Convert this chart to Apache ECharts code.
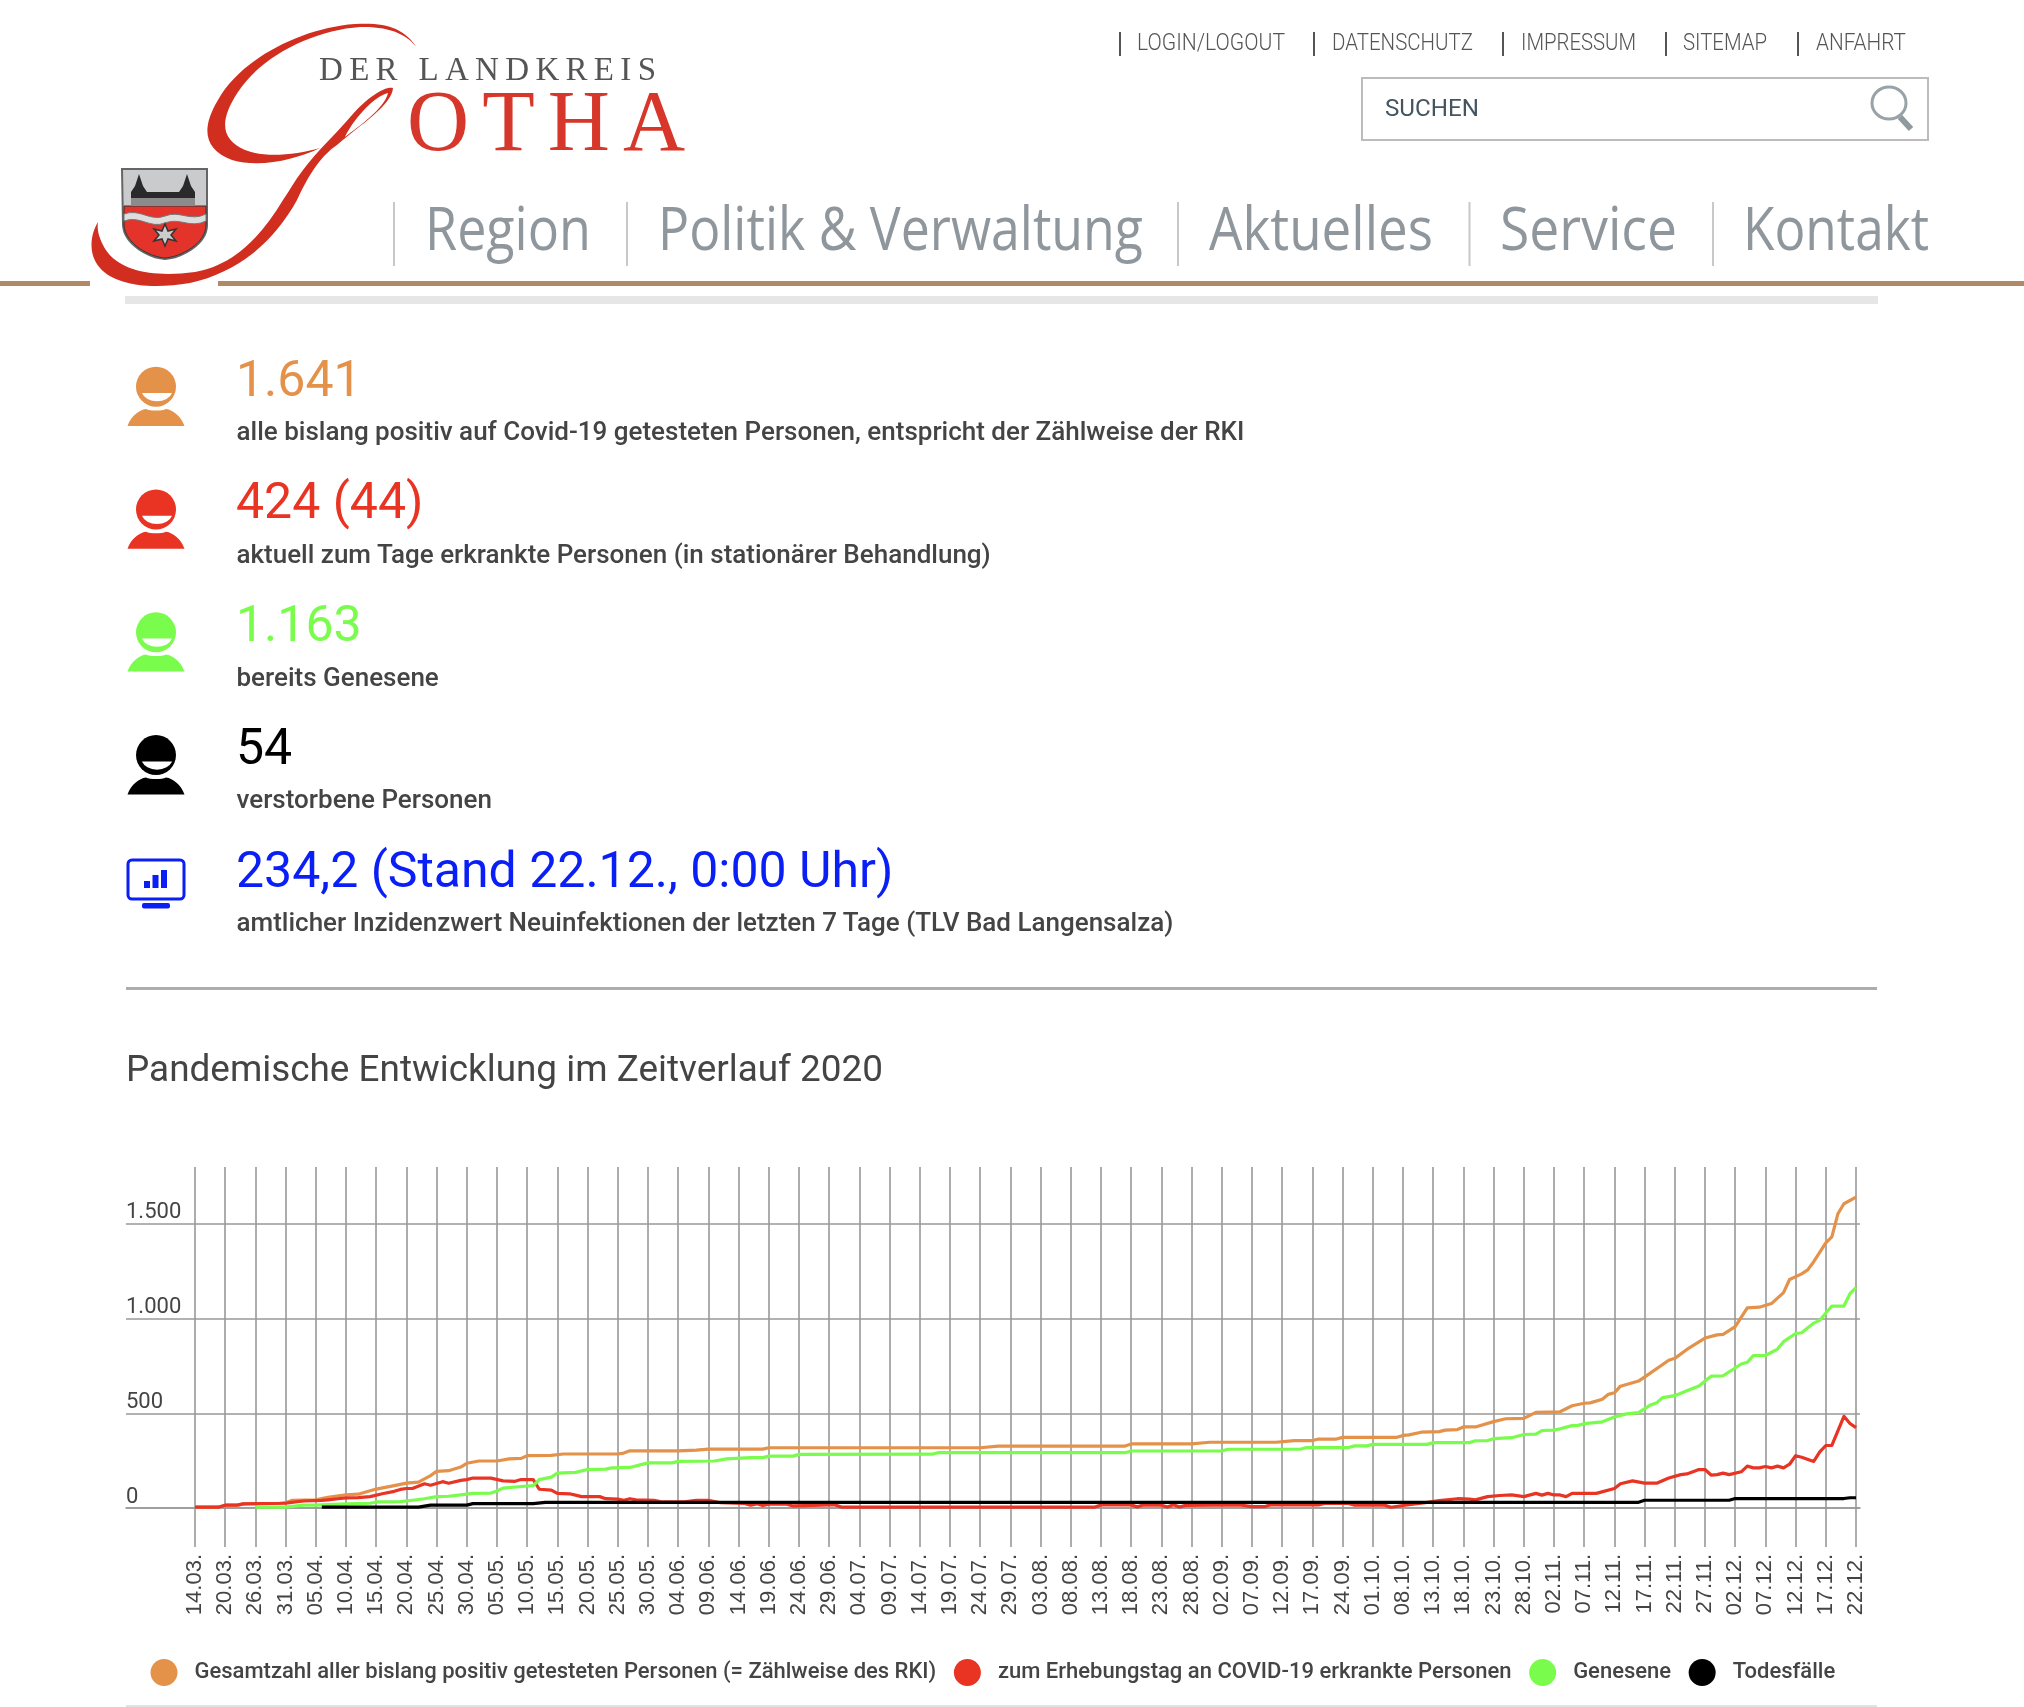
<!DOCTYPE html>
<html lang="de"><head><meta charset="utf-8"><title>Landkreis Gotha</title>
<script src="https://cdn.jsdelivr.net/npm/echarts@6/dist/echarts.min.js"></script>
<style>
html,body{margin:0;padding:0;background:#fff;width:2024px;height:1707px;overflow:hidden}
#chart,#page{position:absolute;left:0;top:0;width:2024px;height:1707px}
#page{pointer-events:none}
text{font-family:Roboto,sans-serif}
</style></head><body>
<div id="chart"></div>
<svg id="page" xmlns="http://www.w3.org/2000/svg" width="2024" height="1707" viewBox="0 0 2024 1707">
 <rect x="0" y="281" width="90" height="5" fill="#b08a68"/><rect x="218" y="281" width="1806" height="5" fill="#b08a68"/>
 <rect x="125" y="296" width="1753" height="8" fill="#e6e6e6"/>
 <!-- logo swash -->
 <g fill="#d12e20" fill-rule="evenodd">
  <path d="M417,48 C405,28 385,22 355,24 C300,28 240,60 218,100 C200,130 205,150 232,160 C260,168 295,160 320,148 C295,155 265,158 245,150 C222,140 218,122 238,92 C262,55 315,30 360,27 C390,26 408,35 417,48 Z"/>
  <path d="M393,88 C385,86 368,97 352,115 C335,135 318,150 303,170 C295,180 290,190 283,200 C262,235 235,265 195,272 C150,278 115,270 103,245 C98,235 97,228 98,222 C90,235 88,255 100,268 C115,285 150,290 190,283 C240,272 275,240 297,200 C310,172 322,155 337,145 C360,125 392,105 393,88 Z M388,93 C385,108 358,127 345,137 C352,122 372,97 388,93 Z"/>
 </g>
 <text x="319" y="80" font-size="33" fill="#555" textLength="337" style="font-family:'Liberation Serif'">DER LANDKREIS</text>
 <text x="407" y="150" font-size="86" fill="#d6372a" textLength="278" style="font-family:'Liberation Serif'">OTHA</text>
 <!-- coat of arms -->
 <path d="M122,169 H207 V225 C207,245 180,258 165,259 C150,258 124,245 123,225 Z" fill="#c9cbcc" stroke="#666" stroke-width="2"/>
 <path d="M124,206 H206 V225 C206,244 180,257 165,258 C150,257 125,244 124,225 Z" fill="#e4332a" stroke="#333" stroke-width="1"/>
 <path d="M124,214 C140,208 150,222 165,216 C180,210 190,222 206,214 V221 C190,229 180,217 165,223 C150,229 140,215 124,221 Z" fill="#ddd" stroke="#777" stroke-width="1"/>
 <g fill="#2a2a2a">
  <path d="M139,174 L143,186 L147,192 V198 H131 V192 L135,186 Z"/>
  <path d="M187,174 L191,186 L195,192 V198 H179 V192 L183,186 Z"/>
  <rect x="147" y="192" width="32" height="6"/>
 </g>
 <rect x="131" y="198" width="64" height="8" fill="#8b8b8b"/>
 <path d="M165,224 L168,231 L176,229 L171,235 L176,241 L168,239 L165,246 L162,239 L154,241 L159,235 L154,229 L162,231 Z" fill="#ccc" stroke="#333" stroke-width="1.5"/>
 <!-- top links -->
 <g stroke="#555" stroke-width="2"><path d="M1120,32V56M1314,32V56M1503,32V56M1666,32V56M1798,32V56"/></g>
 <g font-size="23" fill="#555" font-weight="300">
  <text x="1137" y="50" textLength="148" lengthAdjust="spacingAndGlyphs">LOGIN/LOGOUT</text>
  <text x="1332" y="50" textLength="141" lengthAdjust="spacingAndGlyphs">DATENSCHUTZ</text>
  <text x="1521" y="50" textLength="115" lengthAdjust="spacingAndGlyphs">IMPRESSUM</text>
  <text x="1683" y="50" textLength="84" lengthAdjust="spacingAndGlyphs">SITEMAP</text>
  <text x="1816" y="50" textLength="90" lengthAdjust="spacingAndGlyphs">ANFAHRT</text>
 </g>
 <rect x="1362" y="78" width="566" height="62" fill="#fff" stroke="#bcbcbc" stroke-width="2"/>
 <text x="1385" y="116" font-size="23" fill="#445560" textLength="94" lengthAdjust="spacingAndGlyphs">SUCHEN</text>
 <ellipse cx="1889" cy="103" rx="17" ry="16" fill="none" stroke="#99a3a7" stroke-width="3"/>
 <path d="M1900,117 L1911,129" stroke="#8f9a9e" stroke-width="6" fill="none"/>
 <!-- main nav -->
 <g stroke="#c8c8c8" stroke-width="2"><path d="M394,202V266M627,202V266M1178,202V266M1469.5,202V266M1713,202V266"/></g>
 <g font-size="60" fill="#8f979d">
  <text x="425" y="250" textLength="166" lengthAdjust="spacingAndGlyphs" style="font-family:'Open Sans'">Region</text>
  <text x="658" y="250" textLength="485" lengthAdjust="spacingAndGlyphs" style="font-family:'Open Sans'">Politik &amp; Verwaltung</text>
  <text x="1209" y="250" textLength="224" lengthAdjust="spacingAndGlyphs" style="font-family:'Open Sans'">Aktuelles</text>
  <text x="1500" y="250" textLength="177" lengthAdjust="spacingAndGlyphs" style="font-family:'Open Sans'">Service</text>
  <text x="1743" y="250" textLength="186" lengthAdjust="spacingAndGlyphs" style="font-family:'Open Sans'">Kontakt</text>
 </g>
 <g id="stats"></g>
 <rect x="126" y="987" width="1751" height="3" fill="#adadad"/>
 <rect x="126" y="1705" width="1751" height="2" fill="#e2e2e2"/>
</svg>
<script>
// Headline figures
const statValues = ['1.641', '424 (44)', '1.163', '54', '234,2 (Stand 22.12., 0:00 Uhr)'];
const statTexts = [
  'alle bislang positiv auf Covid-19 getesteten Personen, entspricht der Zählweise der RKI',
  'aktuell zum Tage erkrankte Personen (in stationärer Behandlung)',
  'bereits Genesene',
  'verstorbene Personen',
  'amtlicher Inzidenzwert Neuinfektionen der letzten 7 Tage (TLV Bad Langensalza)'
];
const chartTitle = 'Pandemische Entwicklung im Zeitverlauf 2020';
const seriesNames = ['Gesamtzahl aller bislang positiv getesteten Personen (= Zählweise des RKI)',
  'zum Erhebungstag an COVID-19 erkrankte Personen', 'Genesene', 'Todesfälle'];
// Tick labels: every fifth data row of the source table carries one
const tickLabels = ['14.03.','20.03.','26.03.','31.03.','05.04.','10.04.','15.04.','20.04.','25.04.','30.04.',
 '05.05.','10.05.','15.05.','20.05.','25.05.','30.05.','04.06.','09.06.','14.06.','19.06.','24.06.','29.06.',
 '04.07.','09.07.','14.07.','19.07.','24.07.','29.07.','03.08.','08.08.','13.08.','18.08.','23.08.','28.08.',
 '02.09.','07.09.','12.09.','17.09.','24.09.','01.10.','08.10.','13.10.','18.10.','23.10.','28.10.','02.11.',
 '07.11.','12.11.','17.11.','22.11.','27.11.','02.12.','07.12.','12.12.','17.12.','22.12.'];
const yTicks = [0, 500, 1000, 1500];
// [data row, value]
const gesamtzahl = [[0,5],[4,5],[5,15],[7,15],[8,22],[14,25],[15,28],[16,40],[20,43],[22,56],[25,70],[27,73],[30,100],[33,118],[35,131],[37,137],[39,171],[40,193],[42,197],[44,216],[45,236],[47,248],[50,248],[52,259],[54,262],[55,276],[59,278],[61,285],[70,285],[71,290],[72,302],[80,302],[83,306],[85,311],[94,311],[95,318],[130,318],[133,327],[154,327],[155,338],[165,338],[168,347],[179,347],[182,356],[185,356],[186,364],[189,364],[190,373],[199,373],[200,383],[201,386],[203,400],[206,403],[207,411],[209,414],[210,428],[212,428],[215,456],[217,471],[220,473],[222,505],[226,508],[228,540],[230,553],[231,555],[233,574],[234,600],[235,608],[236,643],[239,670],[241,713],[244,780],[245,790],[247,837],[250,897],[252,914],[253,916],[255,957],[257,1056],[259,1060],[261,1079],[263,1137],[264,1206],[266,1236],[267,1257],[268,1300],[270,1400],[271,1431],[272,1553],[273,1606],[275,1641]];
const erkrankte = [[0,5],[4,5],[5,15],[7,15],[8,22],[15,25],[16,30],[18,37],[21,40],[22,43],[24,50],[25,53],[27,55],[29,60],[31,75],[33,88],[34,98],[35,103],[36,103],[38,128],[39,120],[41,139],[42,131],[44,146],[45,150],[46,158],[49,158],[51,143],[53,141],[54,150],[56,150],[57,99],[59,94],[60,77],[62,75],[63,68],[64,60],[67,60],[68,49],[70,47],[71,41],[72,49],[73,43],[76,41],[77,34],[81,32],[83,40],[85,41],[87,28],[91,24],[92,15],[93,22],[94,13],[95,20],[98,20],[99,11],[101,13],[105,16],[106,16],[107,5],[149,5],[150,16],[155,16],[156,6],[157,16],[160,15],[161,5],[162,17],[163,5],[164,14],[173,16],[175,7],[177,7],[178,16],[183,17],[186,16],[187,24],[191,24],[192,15],[197,15],[198,4],[200,13],[201,17],[204,30],[206,39],[209,49],[211,47],[212,43],[214,60],[216,66],[218,69],[220,60],[222,77],[223,68],[224,77],[225,69],[226,69],[227,60],[228,77],[232,77],[235,103],[236,128],[238,143],[240,131],[242,131],[244,158],[246,176],[247,180],[249,203],[250,203],[251,174],[252,176],[253,184],[254,176],[256,191],[257,221],[258,212],[259,212],[260,219],[261,212],[262,221],[263,212],[264,231],[265,276],[266,268],[268,246],[269,296],[270,330],[271,330],[273,484],[274,446],[275,424]];
const genesene = [[10,5],[15,5],[18,15],[20,15],[25,22],[29,25],[30,32],[34,34],[36,41],[38,49],[40,60],[42,62],[44,69],[46,77],[49,79],[50,90],[51,105],[55,116],[56,118],[57,150],[59,163],[60,184],[63,188],[65,203],[68,205],[69,212],[72,214],[75,238],[79,238],[80,246],[86,248],[88,259],[92,266],[94,266],[95,274],[99,274],[100,283],[122,284],[123,292],[154,292],[155,301],[170,301],[171,310],[183,310],[184,319],[191,319],[192,328],[194,328],[195,336],[204,336],[205,345],[211,345],[212,355],[214,356],[215,366],[218,371],[220,388],[222,390],[223,409],[225,411],[226,418],[228,435],[229,436],[230,445],[233,455],[235,480],[237,497],[239,503],[241,544],[242,555],[243,583],[245,593],[247,619],[249,644],[251,696],[253,698],[256,760],[257,769],[258,805],[260,805],[262,839],[263,878],[265,921],[266,925],[268,976],[269,991],[271,1066],[273,1066],[274,1131],[275,1163]];
const todesfaelle = [[21,5],[37,5],[39,15],[45,15],[46,23],[56,23],[58,30],[239,30],[240,41],[254,41],[255,50],[273,50],[274,54],[275,54]];

// Stat rows drawn into the page overlay
(function () {
  const colors = ['#e4914a', '#e93323', '#7afc4c', '#000000', '#0a1ff5'];
  const NS = 'http://www.w3.org/2000/svg';
  const host = document.getElementById('stats');
  statValues.forEach((v, i) => {
    const dy = i * 122.8, c = colors[i];
    const g = document.createElementNS(NS, 'g');
    g.setAttribute('transform', 'translate(0,' + dy + ')');
    let icon;
    if (i < 4) {
      icon = '<circle cx="156" cy="386.7" r="20" fill="' + c + '"/>' +
        '<path d="M142,393 H172 A15.5,11 0 0 1 142,393 Z" fill="#fff"/>' +
        '<path d="M127.5,426 C131,416 139,410 146,409 C150,411 162,411 166,409 C173,410 181,416 184.5,426 Z" fill="' + c + '"/>';
    } else {
      icon = '<g transform="translate(0,-491.2)"><rect x="128" y="860" width="56" height="39" rx="4" fill="none" stroke="' + c + '" stroke-width="3"/>' +
        '<rect x="142" y="903" width="28" height="5.5" rx="2" fill="' + c + '"/>' +
        '<rect x="144" y="881" width="6" height="7" fill="' + c + '"/><rect x="152.5" y="875" width="6" height="13" fill="' + c + '"/><rect x="161" y="870" width="6" height="18" fill="' + c + '"/></g>';
    }
    g.innerHTML = icon;
    const big = document.createElementNS(NS, 'text');
    big.setAttribute('x', 236); big.setAttribute('y', 395.5); big.setAttribute('font-size', 50);
    big.setAttribute('fill', c); big.textContent = v;
    const small = document.createElementNS(NS, 'text');
    small.setAttribute('x', 236.5); small.setAttribute('y', 440); small.setAttribute('font-size', 26);
    small.setAttribute('font-weight', 500); small.setAttribute('fill', '#444'); small.textContent = statTexts[i];
    g.appendChild(big); g.appendChild(small); host.appendChild(g);
  });
})();

const tickRows = tickLabels.map((_, i) => i * 5);
const GRID_COLOR = '#999999';
const chart = echarts.init(document.getElementById('chart'), null, { renderer: 'canvas' });
const colors = ['#e4914a', '#e93323', '#7afc4c', '#000000'];
const datasets = [gesamtzahl, erkrankte, genesene, todesfaelle];
chart.setOption({
  animation: false,
  backgroundColor: '#fff',
  title: { text: chartTitle, left: 126, top: 1053, padding: 0,
    textStyle: { fontFamily: 'Roboto', fontSize: 36.9, fontWeight: 400, color: '#444' } },
  legend: { left: 150.5, top: 1659, padding: 0, itemWidth: 27, itemHeight: 27, itemGap: 17.6, icon: 'circle',
    textStyle: { fontFamily: 'Roboto', fontSize: 22, fontWeight: 500, color: '#444', padding: [0, 0, 0, 12] },
    data: seriesNames },
  grid: { left: 126, right: 164, top: 1167, bottom: 199, containLabel: false },
  xAxis: { type: 'value', min: -11.42, max: 275.66,
    axisLine: { show: true, lineStyle: { color: GRID_COLOR, width: 1.6 } },
    axisTick: { show: true, length: 39, customValues: tickRows, lineStyle: { color: GRID_COLOR, width: 1.6 } },
    splitLine: { show: true, lineStyle: { color: GRID_COLOR, width: 1.6 } },
    axisLabel: { customValues: tickRows, rotate: 90, margin: 46, hideOverlap: false,
      padding: [2, 0, 0, 0], fontFamily: 'Liberation Sans', fontSize: 22, color: '#444',
      formatter: v => tickLabels[Math.round(v / 5)] } },
  yAxis: { type: 'value', min: 0, max: 1800,
    axisLine: { show: false },
    axisTick: { show: false, customValues: yTicks },
    splitLine: { show: true, lineStyle: { color: GRID_COLOR, width: 1.6 } },
    axisLabel: { customValues: yTicks, inside: true, margin: 0, align: 'left', verticalAlign: 'bottom',
      padding: [0, 0, 0, 0], fontFamily: 'Roboto', fontSize: 22, color: '#444',
      formatter: v => v === 0 ? '0' : String(v).replace(/(\d)(\d{3})$/, '$1.$2') } },
  series: datasets.map((d, i) => ({
    name: seriesNames[i], type: 'line', data: d, showSymbol: false, symbol: 'none', clip: false,
    lineStyle: { color: colors[i], width: 3.2, join: 'round' }, itemStyle: { color: colors[i] }, z: 3 + i,
    silent: true
  }))
});
</script>
</body></html>
